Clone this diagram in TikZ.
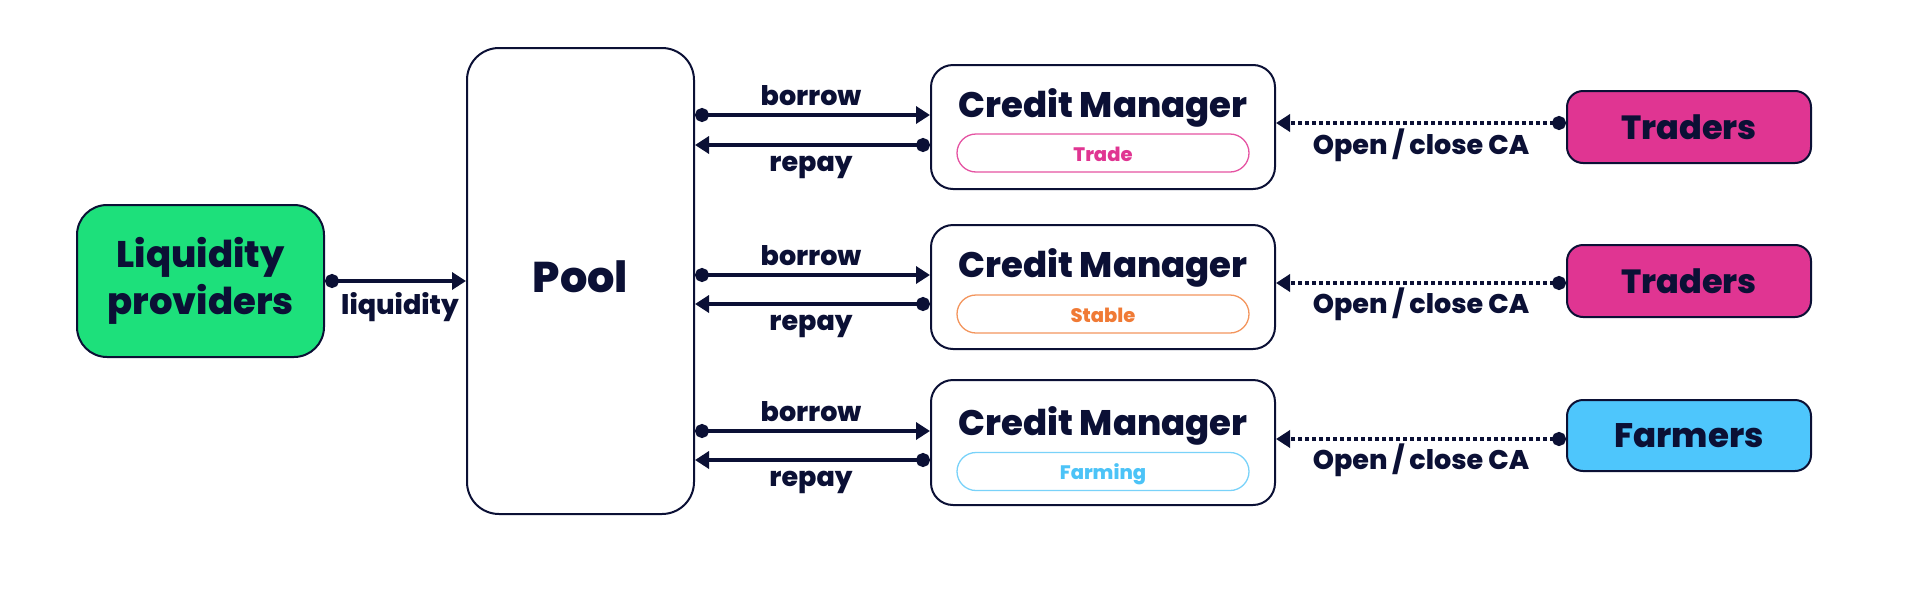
\documentclass[tikz,border=0pt]{standalone}
\usepackage{fontspec}
\setmainfont{Poppins}[BoldFont={Poppins ExtraBold}]
\usetikzlibrary{arrows.meta,calc}
\definecolor{navy}{HTML}{0B1035}
\definecolor{lpgreen}{HTML}{1DE07B}
\definecolor{trpink}{HTML}{E03592}
\definecolor{fmblue}{HTML}{4EC6FC}
\definecolor{storange}{HTML}{F07A35}
\definecolor{fmtext}{HTML}{4CC3F7}
\tikzset{
  box/.style={draw=navy,line width=2pt,rectangle,inner sep=0pt,rounded corners=#1},
  box/.default=22pt,
  pill/.style={draw=#1,line width=1.3pt,rectangle,inner sep=0pt,rounded corners=19pt,minimum width=292pt,minimum height=38pt},
  lbl/.style={text=navy,font=\bfseries\fontsize{27}{30}\selectfont,inner sep=0pt,anchor=base},
  flow/.style={draw=navy,line width=3.4pt,{Circle[length=14pt]}-{Triangle[length=14pt,width=17pt]}},
  openflow/.style={draw=navy,line width=4pt,dash pattern=on 4pt off 3pt,{Circle[length=14pt]}-{Triangle[length=14pt,width=17pt]}},
}
\begin{document}
\begin{tikzpicture}[x=1pt,y=-1pt]
\useasboundingbox (0,0) rectangle (1920,600);
% main nodes
\node[box=30pt,fill=lpgreen,minimum width=247pt,minimum height=152pt] (lp) at (200.5,281) {};
\node[text=navy,font=\bfseries\fontsize{37}{47}\selectfont,align=center,inner sep=0pt] (lptext) at (200.5,281) {Liquidity\\providers};
\node[box=32pt,fill=white,minimum width=227pt,minimum height=466pt] (pool) at (580.5,281) {};
\node[text=navy,font=\bfseries\fontsize{43}{50}\selectfont,inner sep=0pt] (pooltext) at (580.5,277) {Pool};
% credit managers
\node[box,minimum width=344pt,minimum height=124pt] (cm1) at (1103,127) {};
\node[box,minimum width=344pt,minimum height=124pt] (cm2) at (1103,287) {};
\node[box,minimum width=344pt,minimum height=125pt] (cm3) at (1103,442.5) {};
\node[lbl,font=\bfseries\fontsize{35.5}{40}\selectfont] (cmt1) at (1103,117) {Credit Manager};
\node[lbl,font=\bfseries\fontsize{35.5}{40}\selectfont] (cmt2) at (1103,277) {Credit Manager};
\node[lbl,font=\bfseries\fontsize{35.5}{40}\selectfont] (cmt3) at (1103,435) {Credit Manager};
\node[pill=trpink!85] (p1) at (1103,153) {};
\node[pill=storange!80] (p2) at (1103,314) {};
\node[pill=fmtext!75] (p3) at (1103,471.5) {};
\node[lbl,text=trpink,font=\bfseries\fontsize{19.5}{24}\selectfont] (pt1) at (1103,161) {Trade};
\node[lbl,text=storange,font=\bfseries\fontsize{19.5}{24}\selectfont] (pt2) at (1103,322) {Stable};
\node[lbl,text=fmtext,font=\bfseries\fontsize{19.5}{24}\selectfont] (pt3) at (1103,479) {Farming};
% users
\node[box=16pt,fill=trpink,minimum width=244pt,minimum height=72pt,text=navy,font=\bfseries\fontsize{33.5}{40}\selectfont] (tr1) at (1689,127) {Traders};
\node[box=16pt,fill=trpink,minimum width=244pt,minimum height=72pt,text=navy,font=\bfseries\fontsize{33.5}{40}\selectfont] (tr2) at (1689,281) {Traders};
\node[box=16pt,fill=fmblue,minimum width=244pt,minimum height=71pt,text=navy,font=\bfseries\fontsize{34}{40}\selectfont] (fm) at (1689,435.5) {Farmers};
% liquidity
\draw[flow] (lp.east) -- (pool.west |- lp.east);
\node[lbl] (liq) at (400,314) {liquidity};
% borrow / repay
\foreach \i/\yb/\yr in {1/115/145,2/275/304,3/431/460}{
  \draw[flow] (pool.east |- 0,\yb) -- (cm\i.west |- 0,\yb);
  \draw[flow] (cm\i.west |- 0,\yr) -- (pool.east |- 0,\yr);
}
\node[lbl] (b1) at (811,105) {borrow};
\node[lbl] (b2) at (811,265) {borrow};
\node[lbl] (b3) at (811,421) {borrow};
\node[lbl] (r1) at (811,171) {repay};
\node[lbl] (r2) at (811,330) {repay};
\node[lbl] (r3) at (811,486) {repay};
% open / close
\draw[openflow] (tr1.west |- 0,123) -- (cm1.east |- 0,123);
\draw[openflow] (tr2.west |- 0,283) -- (cm2.east |- 0,283);
\draw[openflow] (fm.west |- 0,439) -- (cm3.east |- 0,439);
\node[lbl] (o1) at (1421,154) {Open / close CA};
\node[lbl] (o2) at (1421,313) {Open / close CA};
\node[lbl] (o3) at (1421,469) {Open / close CA};
\end{tikzpicture}
\end{document}
